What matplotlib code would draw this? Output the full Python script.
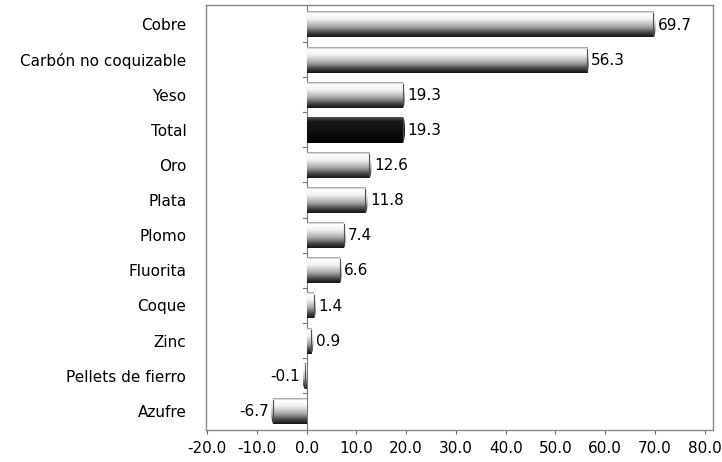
import matplotlib.pyplot as plt
import numpy as np
from matplotlib import colors
from matplotlib.patches import Ellipse

plt.rcParams['font.family'] = ['DejaVu Sans']

categories = ['Cobre', 'Carbón no coquizable', 'Yeso', 'Total', 'Oro', 'Plata',
              'Plomo', 'Fluorita', 'Coque', 'Zinc', 'Pellets de fierro', 'Azufre']
values = [69.7, 56.3, 19.3, 19.3, 12.6, 11.8, 7.4, 6.6, 1.4, 0.9, -0.1, -6.7]
highlight = 'Total'
xticks = [-20, -10, 0, 10, 20, 30, 40, 50, 60, 70, 80]

# shading for the cylinder look, top of bar -> bottom of bar
cyl = colors.LinearSegmentedColormap.from_list(
    'cyl', [(0.0, '#9a9a9a'), (0.08, '#ffffff'), (0.3, '#f2f2f2'),
            (0.6, '#a8a8a8'), (0.85, '#404040'), (1.0, '#151515')])
dark = colors.LinearSegmentedColormap.from_list(
    'dark', [(0.0, '#555555'), (0.15, '#1a1a1a'), (1.0, '#000000')])
grad = np.linspace(0, 1, 64).reshape(-1, 1)

fig = plt.figure(figsize=(7.22, 4.62), dpi=100)
ax = fig.add_axes([0.285, 0.069, 0.702, 0.92])

y = np.arange(len(categories))
h = 0.74
ax.set_xlim(-20.3, 81.6)
ax.set_ylim(len(categories) - 0.45, -0.55)

for yi, name, v in zip(y, categories, values):
    cmap = dark if name == highlight else cyl
    w = v if abs(v) > 0.4 else (0.4 if v >= 0 else -0.4)
    bar = ax.barh(yi, w, height=h, color='none', edgecolor='none', zorder=2)[0]
    im = ax.imshow(grad, cmap=cmap, aspect='auto', interpolation='bilinear',
                   extent=[min(0, w), max(0, w), yi + h / 2, yi - h / 2], zorder=2)
    im.set_clip_path(bar)
    # rounded end cap
    cap = Ellipse((w, yi), 0.9, h, facecolor='none', edgecolor='none', zorder=3)
    ax.add_patch(cap)
    im2 = ax.imshow(grad, cmap=cmap, aspect='auto', interpolation='bilinear',
                    extent=[w - 0.45, w + 0.45, yi + h / 2, yi - h / 2], zorder=3)
    im2.set_clip_path(cap)
    ax.plot([w, w], [yi - h * 0.42, yi + h * 0.42], color='#505050', lw=0.8, zorder=4)
    if v >= 0:
        ax.text(w + 0.9, yi + 0.02, f'{v:.1f}', va='center', ha='left', fontsize=11)
    else:
        ax.text(w - 0.9, yi + 0.02, f'{v:.1f}', va='center', ha='right', fontsize=11)

ax.set_xticks(xticks)
ax.set_xticklabels([f'{t:.1f}' for t in xticks], fontsize=11)
ax.set_yticks(y)
ax.set_yticklabels(categories, fontsize=11)
ax.tick_params(axis='y', length=0, pad=14)
ax.tick_params(axis='x', length=3, color='#666666', pad=5)

# category axis drawn at zero with small separator ticks
ax.axvline(0, color='#777777', lw=0.8, zorder=1)
for b in np.arange(len(categories) - 1) + 0.5:
    ax.plot([-0.7, 0], [b, b], color='#777777', lw=0.8, zorder=1)

for s in ax.spines.values():
    s.set_color('#888888')
    s.set_linewidth(1.0)

fig.savefig('out.png', dpi=100)
